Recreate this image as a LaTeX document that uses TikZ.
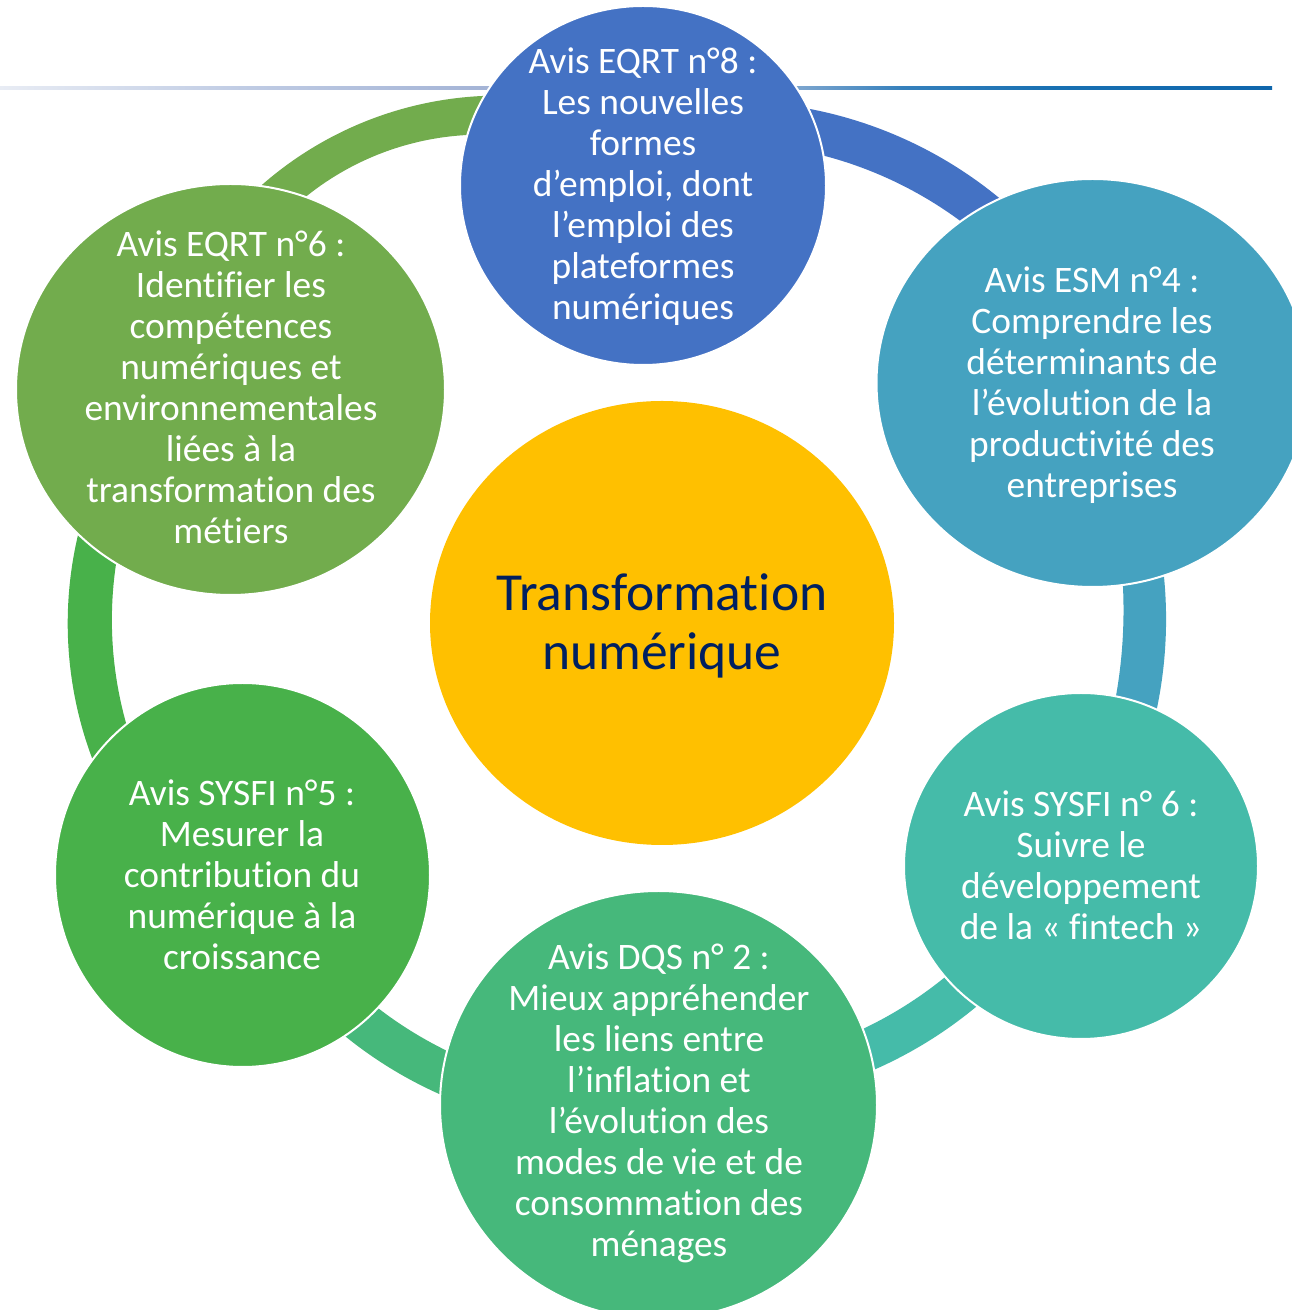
\documentclass[tikz,border=0pt]{standalone}
\usepackage{fontspec}
\setmainfont{Carlito}[Ligatures={NoCommon}]
\usetikzlibrary{shapes.geometric}
\definecolor{cBlue}{HTML}{4472C4}
\definecolor{cEsm}{HTML}{45A2C0}
\definecolor{cFin}{HTML}{45BBA9}
\definecolor{cDqs}{HTML}{46B87B}
\definecolor{cSys}{HTML}{48B14A}
\definecolor{cEqr}{HTML}{72AC4D}
\definecolor{cSun}{HTML}{FFC000}
\definecolor{cNavy}{HTML}{002060}
\definecolor{sA}{HTML}{E8ECF4}
\definecolor{sB}{HTML}{C0CCE4}
\definecolor{sC}{HTML}{A4B4D6}
\definecolor{sD}{HTML}{7AA4CE}
\definecolor{sE}{HTML}{3580BC}
\definecolor{sF}{HTML}{1870B2}
\definecolor{sG}{HTML}{0F66AC}
\pgfdeclarehorizontalshading{ruleshade}{100bp}{
 color(0bp)=(sA);
 color(25bp)=(sA);
 color(34.5bp)=(sB);
 color(44bp)=(sC);
 color(56.5bp)=(sD);
 color(60.5bp)=(sE);
 color(66.5bp)=(sF);
 color(75bp)=(sG);
 color(100bp)=(sG)}
\tikzset{
 bub/.style={ellipse,draw=white,line width=2pt,inner sep=0pt,outer sep=0pt},
 txt/.style={text=white,align=center,inner sep=0pt,font=\fontsize{37.4}{41}\selectfont},
 midtxt/.style={text=cNavy,align=center,inner sep=0pt,font=\fontsize{53.5}{59}\selectfont}
}
% circle through two image points, bulging away from the ring centre
\newcommand\arcsolve[5]{%
 \pgfmathsetmacro\px{#1}\pgfmathsetmacro\py{1310-#2}%
 \pgfmathsetmacro\qx{#3}\pgfmathsetmacro\qy{1310-#4}%
 \pgfmathsetmacro\ll{veclen(\qx-\px,\qy-\py)}%
 \pgfmathsetmacro\mx{(\px+\qx)/2}\pgfmathsetmacro\my{(\py+\qy)/2}%
 \pgfmathsetmacro\nx{-(\qy-\py)/\ll}\pgfmathsetmacro\ny{(\qx-\px)/\ll}%
 \pgfmathsetmacro\sg{(617-\mx)*\nx+(688-\my)*\ny>0?1:-1}%
 \pgfmathsetmacro\hh{#5*cos(asin(\ll/2/#5))}%
 \pgfmathsetmacro\ox{\mx+\sg*\hh*\nx}\pgfmathsetmacro\oy{\my+\sg*\hh*\ny}%
 \pgfmathsetmacro\aa{atan2(\py-\oy,\px-\ox)}%
 \pgfmathsetmacro\bb{atan2(\qy-\oy,\qx-\ox)}%
 \pgfmathsetmacro\dd{\bb-\aa}%
 \pgfmathsetmacro\dd{\dd>180?\dd-360:(\dd<-180?\dd+360:\dd)}%
 \pgfmathsetmacro\ee{(\dd>0?1:-1)*458/#5}%
 \pgfmathsetmacro\sa{\aa-\ee}\pgfmathsetmacro\sb{\aa+\dd+\ee}%
 \pgfmathsetmacro\ux{\ox+#5*cos(\sa)}\pgfmathsetmacro\uy{\oy+#5*sin(\sa)}%
}
% colour; outer end 1, outer end 2, outer radius; inner end 1, inner end 2, inner radius
\newcommand\ringseg[8]{%
 \arcsolve{#2}{#3}{#4}{#5}{#6}%
 \let\uxa\ux\let\uya\uy\let\saa\sa\let\sba\sb
 \def\tmpr{#6}%
 \ringsegb{#1}{#7}{#8}%
}
\newcommand\ringsegb[3]{\def\segcol{#1}\def\cxy{{#2}{#3}}\ringsegc}
\newcommand\ringsegc[3]{%
 \expandafter\arcsolvewrap\cxy{#1}{#2}{#3}%
 \fill[\segcol] (\uxa,\uya) arc[start angle=\saa,end angle=\sba,radius=\tmpr pt]
   -- (\ux,\uy) arc[start angle=\sa,end angle=\sb,radius=\rin pt] -- cycle;%
}
\newcommand\arcsolvewrap[5]{\def\rin{#5}\arcsolve{#3}{#4}{#1}{#2}{#5}}
\begin{document}
\begin{tikzpicture}[x=1pt,y=1pt]
\useasboundingbox (0,0) rectangle (1292,1310);
\clip (0,0) rectangle (1292,1310);
\fill[white] (0,0) rectangle (1292,1310);
\shade[shading=ruleshade] (0,1220) rectangle (1272,1223.3);
\ringseg{cEqr}{482}{96}{263}{184}{360}{467}{135}{308}{195}{280}
\ringseg{cBlue}{810}{109}{998}{197}{424}{825}{156}{959}{220}{400}
\ringseg{cEsm}{1164}{577}{1157}{708}{438}{1123}{587}{1116}{696}{495}
\ringseg{cFin}{976}{1007}{876}{1069}{430}{944}{978}{865}{1028}{400}
\ringseg{cDqs}{346}{1037}{439}{1094}{424}{379}{1009}{445}{1050}{400}
\ringseg{cSys}{78}{535}{92}{758}{385}{116}{564}{126}{723}{382}
\node[bub,fill=cBlue,minimum width=366pt,minimum height=359pt] (eqrt8) at (643,1124.5) {};
\node[bub,fill=cEsm,minimum width=432pt,minimum height=408pt] (esm4) at (1092.5,927) {};
\node[bub,fill=cFin,minimum width=354pt,minimum height=346pt] (sysfi6) at (1081,444) {};
\node[bub,fill=cDqs,minimum width=437pt,minimum height=428pt] (dqs2) at (658.5,205) {};
\node[bub,fill=cSys,minimum width=375pt,minimum height=384pt] (sysfi5) at (242.5,435) {};
\node[bub,fill=cEqr,minimum width=429pt,minimum height=411pt] (eqrt6) at (230.5,920.5) {};
\node[bub,fill=cSun,draw=none,minimum width=464pt,minimum height=444pt] (centre) at (662,687) {};
\node[txt] (t8) at (643,1123) {Avis EQRT n°8 :\\Les nouvelles\\formes\\d’emploi, dont\\l’emploi des\\plateformes\\numériques};
\node[txt] (t4) at (1092,925) {Avis ESM n°4 :\\Comprendre les\\déterminants de\\l’évolution de la\\productivité des\\entreprises};
\node[txt] (ts6) at (1081,444.5) {Avis SYSFI n° 6 :\\Suivre le\\développement\\de la « fintech »};
\node[txt] (td2) at (659,206.5) {Avis DQS n° 2 :\\Mieux appréhender\\les liens entre\\l’inflation et\\l’évolution des\\modes de vie et de\\consommation des\\ménages};
\node[txt] (ts5) at (242,435) {Avis SYSFI n°5 :\\Mesurer la\\contribution du\\numérique à la\\croissance};
\node[txt] (t6) at (231,923) {Avis EQRT n°6 :\\Identifier les\\compétences\\numériques et\\environnementales\\liées à la\\transformation des\\métiers};
\node[midtxt] (tc) at (662,684.5) {Transformation\\numérique};
\end{tikzpicture}
\end{document}
